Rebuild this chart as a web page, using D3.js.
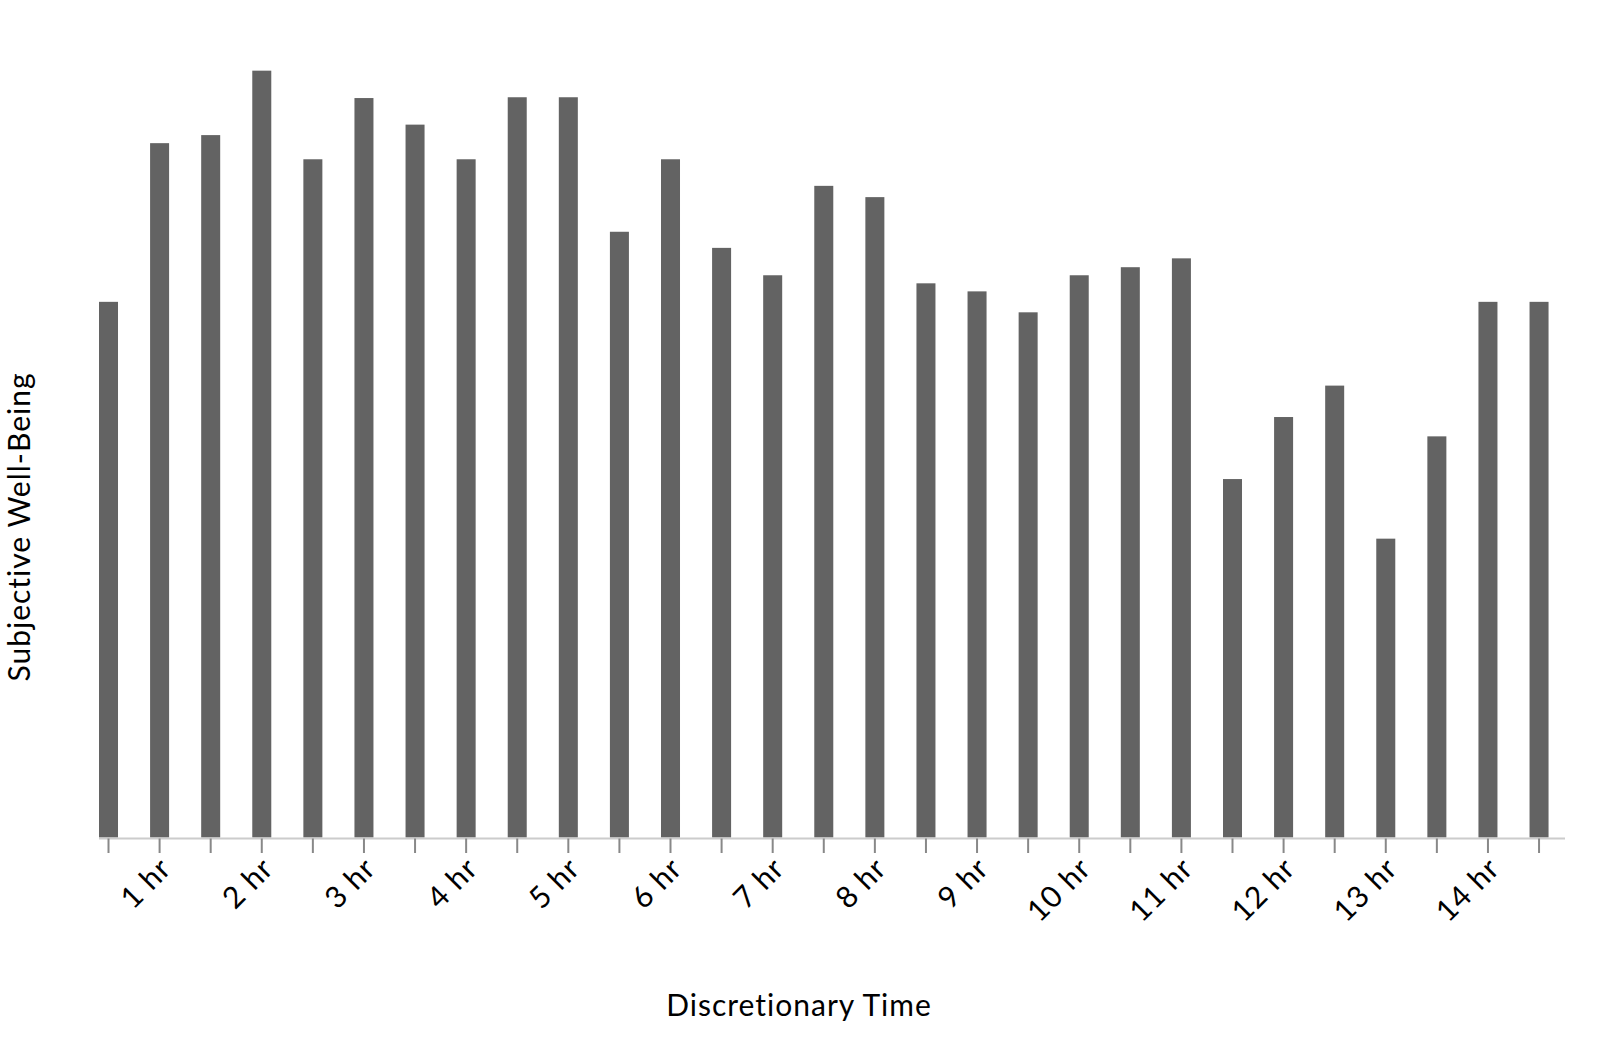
<!DOCTYPE html>
<html>
<head>
<meta charset="utf-8">
<script src="https://cdn.jsdelivr.net/npm/d3@7"></script>
<style>
  html, body { margin: 0; padding: 0; background: #fff; }
  svg { display: block; }
  text { font-family: Lato, "Open Sans", sans-serif; fill: #000; }
</style>
</head>
<body>
<svg id="chart" width="1600" height="1053"></svg>
<script>
// ---- data ----
const categories = ["0.5 hr","1 hr","1.5 hr","2 hr","2.5 hr","3 hr","3.5 hr","4 hr","4.5 hr","5 hr",
  "5.5 hr","6 hr","6.5 hr","7 hr","7.5 hr","8 hr","8.5 hr","9 hr","9.5 hr","10 hr",
  "10.5 hr","11 hr","11.5 hr","12 hr","12.5 hr","13 hr","13.5 hr","14 hr","14.5 hr"];
const wellBeing = [0.665,0.862,0.872,0.952,0.842,0.918,0.885,0.842,0.919,0.919,
  0.752,0.842,0.732,0.698,0.809,0.795,0.688,0.678,0.652,0.698,
  0.708,0.719,0.445,0.522,0.561,0.371,0.498,0.665,0.665];
const tickLabels = ["1 hr","2 hr","3 hr","4 hr","5 hr","6 hr","7 hr","8 hr","9 hr","10 hr","11 hr","12 hr","13 hr","14 hr"];
const xTitle = "Discretionary Time";
const yTitle = "Subjective Well-Being";

// ---- layout ----
const svg = d3.select("#chart");
const x0 = 99, x1 = 1565, yBase = 837.5, yTop = 32, axisY = 838.5;

const x = d3.scaleBand()
  .domain(categories)
  .range([x0, x1])
  .paddingInner(0.628)
  .paddingOuter(0.161)
  .align(0);

const y = d3.scaleLinear().domain([0, 1]).range([yBase, yTop]);

svg.append("rect").attr("width", 1600).attr("height", 1053).attr("fill", "#fff");

// bars
svg.append("g").selectAll("rect")
  .data(categories.map((c, i) => ({ c, v: wellBeing[i] })))
  .join("rect")
  .attr("x", d => x(d.c))
  .attr("y", d => y(d.v))
  .attr("width", x.bandwidth())
  .attr("height", d => y(0) - y(d.v))
  .attr("fill", "#636363");

// x axis
const axis = d3.axisBottom(x)
  .tickSize(14.5)
  .tickSizeOuter(0)
  .tickFormat(d => tickLabels.includes(d) ? d : "");

const gx = svg.append("g").attr("transform", `translate(0,${axisY})`).call(axis);
gx.select(".domain").attr("stroke", "#cccccc").attr("stroke-width", 2)
  .attr("d", `M${x0},0H${x1}`);
gx.selectAll(".tick line").attr("stroke", "#888").attr("stroke-width", 2);
gx.selectAll(".tick text")
  .attr("font-size", 30)
  .attr("letter-spacing", 1)
  .attr("fill", "#000")
  .attr("text-anchor", "end")
  .attr("y", null)
  .attr("dy", "0.35em")
  .attr("transform", "translate(6,24.5) rotate(-45)");

// titles
svg.append("text")
  .attr("x", 799)
  .attr("y", 1016)
  .attr("text-anchor", "middle")
  .attr("font-size", 30)
  .attr("letter-spacing", 1)
  .text(xTitle);

svg.append("text")
  .attr("transform", "translate(30,527) rotate(-90)")
  .attr("text-anchor", "middle")
  .attr("font-size", 30)
  .attr("letter-spacing", 1)
  .text(yTitle);
</script>
</body>
</html>
